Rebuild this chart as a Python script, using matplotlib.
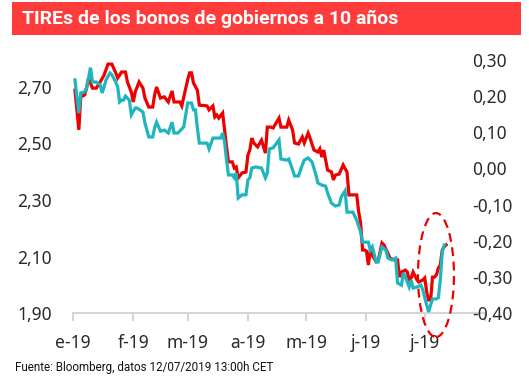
import numpy as np
import matplotlib
matplotlib.use("Agg")
import matplotlib.pyplot as plt
from matplotlib.patches import Ellipse, Rectangle

# ---- data (days counted from 2019-01-01) ----
red_days = [1, 3, 4, 6, 7, 8, 10, 12, 14, 16, 18, 20, 22, 23, 25, 27, 28, 30, 31, 32,
            34, 36, 37, 39, 41, 42, 43, 45, 47, 49, 51, 52, 55, 56, 57, 59, 60, 61, 62, 64,
            65, 69, 70, 72, 73, 74, 75, 77, 78, 79, 80, 82, 83, 84, 85, 87, 89, 90, 91, 92,
            93, 95, 97, 99, 100, 102, 103, 106, 107, 110, 111, 113, 114, 116, 118, 119, 121, 122, 124, 126,
            127, 128, 129, 131, 133, 134, 135, 137, 139, 141, 142, 146, 147, 148, 149, 150, 151, 152, 153, 154,
            156, 157, 159, 160, 162, 163, 165, 167, 168, 169, 171, 172, 173, 174, 175, 177, 178, 180, 181, 182,
            183, 184, 185, 186, 187, 188, 189, 190, 191, 192]
red_vals = [2.689, 2.548, 2.665, 2.672, 2.696, 2.732, 2.696, 2.696, 2.718, 2.742, 2.781, 2.781, 2.750, 2.732, 2.753, 2.753, 2.718, 2.682, 2.647, 2.682,
            2.718, 2.696, 2.661, 2.629, 2.629, 2.672, 2.700, 2.661, 2.665, 2.647, 2.686, 2.647, 2.647, 2.633, 2.665, 2.725, 2.750, 2.750, 2.714, 2.689,
            2.636, 2.633, 2.619, 2.633, 2.594, 2.601, 2.590, 2.608, 2.548, 2.488, 2.435, 2.435, 2.413, 2.417, 2.378, 2.396, 2.399, 2.459, 2.477, 2.519,
            2.502, 2.488, 2.512, 2.466, 2.558, 2.558, 2.555, 2.590, 2.558, 2.558, 2.583, 2.548, 2.502, 2.498, 2.523, 2.502, 2.537, 2.519, 2.477, 2.470,
            2.481, 2.452, 2.477, 2.406, 2.399, 2.371, 2.388, 2.392, 2.424, 2.399, 2.318, 2.318, 2.258, 2.219, 2.123, 2.123, 2.119, 2.070, 2.123, 2.105,
            2.081, 2.084, 2.148, 2.141, 2.112, 2.095, 2.088, 2.088, 2.027, 2.045, 2.052, 2.045, 2.017, 2.024, 2.045, 2.017, 2.010, 2.017, 2.024, 1.974,
            1.946, 1.946, 2.027, 2.027, 2.035, 2.059, 2.070, 2.123, 2.134, 2.141]

teal_days = [1, 3, 4, 6, 7, 9, 10, 12, 14, 15, 16, 17, 19, 20, 22, 23, 24, 25, 26, 27,
             29, 30, 32, 33, 36, 37, 39, 41, 42, 43, 45, 47, 49, 51, 52, 54, 57, 59, 61, 62,
             63, 64, 65, 69, 70, 72, 76, 77, 78, 79, 80, 82, 83, 84, 85, 87, 89, 90, 91, 92,
             94, 97, 99, 100, 101, 103, 106, 107, 110, 111, 113, 114, 116, 118, 119, 121, 123, 125, 126, 128,
             130, 131, 133, 135, 137, 138, 140, 141, 144, 146, 148, 149, 152, 153, 154, 156, 157, 159, 161, 162,
             164, 166, 167, 169, 170, 171, 172, 173, 174, 175, 177, 179, 180, 181, 183, 184, 185, 187, 188, 189,
             190, 191]
teal_vals = [0.245, 0.153, 0.209, 0.212, 0.223, 0.279, 0.239, 0.239, 0.231, 0.209, 0.225, 0.245, 0.264, 0.259, 0.239, 0.225, 0.184, 0.189, 0.189, 0.200,
             0.189, 0.148, 0.167, 0.167, 0.156, 0.126, 0.087, 0.087, 0.112, 0.128, 0.103, 0.106, 0.098, 0.128, 0.098, 0.098, 0.115, 0.181, 0.181, 0.162,
             0.162, 0.112, 0.070, 0.070, 0.054, 0.084, 0.084, 0.098, 0.073, 0.023, -0.018, -0.018, -0.026, -0.013, -0.082, -0.073, -0.073, -0.032, -0.026, 0.001,
             0.004, 0.001, -0.026, -0.013, 0.054, 0.057, 0.079, 0.026, 0.023, 0.026, -0.004, -0.021, -0.021, 0.010, 0.023, 0.029, 0.018, -0.018, -0.040, -0.046,
             -0.049, -0.068, -0.096, -0.104, -0.101, -0.079, -0.062, -0.121, -0.121, -0.143, -0.176, -0.204, -0.204, -0.226, -0.217, -0.259, -0.259, -0.217, -0.226, -0.248,
             -0.253, -0.248, -0.317, -0.323, -0.289, -0.300, -0.314, -0.328, -0.309, -0.331, -0.328, -0.323, -0.336, -0.358, -0.397, -0.378, -0.361, -0.361, -0.358, -0.309,
             -0.231, -0.212]

month_starts = ["2019-01-01", "2019-02-01", "2019-03-01", "2019-04-01",
                "2019-05-01", "2019-06-01", "2019-07-01", "2019-08-01"]
month_labels = ["e-19", "f-19", "m-19", "a-19", "m-19", "j-19", "j-19", ""]
left_ticks = [1.90, 2.10, 2.30, 2.50, 2.70]
right_ticks = [-0.40, -0.30, -0.20, -0.10, 0.00, 0.10, 0.20, 0.30]

title = "TIREs de los bonos de gobiernos a 10 años"
source = "Fuente: Bloomberg, datos 12/07/2019 13:00h CET"

RED = "#EC0000"
TEAL = "#1EB5BE"
BANNER = "#FF3C3C"
TXT = "#2A2A2A"
GRID = "#D5D5D5"

plt.rcParams["font.family"] = ["Noto Sans", "DejaVu Sans"]

base = np.datetime64("2019-01-01")
red_x = base + np.array(red_days).astype("timedelta64[D]")
teal_x = base + np.array(teal_days).astype("timedelta64[D]")
mx = np.array(month_starts, dtype="datetime64[D]")

fig = plt.figure(figsize=(5.29, 3.84), dpi=100)
ax = fig.add_axes([73 / 529, 1 - 313 / 384, (485 - 73) / 529, (313 - 60) / 384])
ax2 = ax.twinx()

ax.plot(red_x, red_vals, color=RED, lw=2.3, solid_joinstyle="miter")
ax2.plot(teal_x, teal_vals, color=TEAL, lw=2.3, solid_joinstyle="miter")

ax.set_xlim(mx[0], mx[-1])
ax.set_ylim(1.90, 1.90 + 253 / 282.5)
ax2.set_ylim(-0.40, 0.30)

ax.set_xticks(mx)
ax.set_xticklabels(month_labels)
ax.set_yticks(left_ticks)
ax.set_yticklabels([f"{v:.2f}".replace(".", ",") for v in left_ticks])
ax2.set_yticks(right_ticks)
ax2.set_yticklabels([f"{v:.2f}".replace(".", ",") for v in right_ticks])

for a in (ax, ax2):
    for s in ("top", "left", "right", "bottom"):
        a.spines[s].set_visible(False)
ax.spines["bottom"].set_visible(True)
ax.spines["bottom"].set_color(GRID)
ax.spines["bottom"].set_linewidth(1.5)

ax.tick_params(axis="x", direction="out", length=6, width=1.5, color=GRID,
               labelsize=12.5, labelcolor=TXT, pad=9)
ax.tick_params(axis="y", length=0, labelsize=12.5, labelcolor=TXT, pad=15)
ax2.tick_params(axis="y", length=0, labelsize=12.5, labelcolor=TXT, pad=-9.5)

# dashed highlight ellipse
ell = Ellipse((0.881, 0.150), 0.0874, 0.49, transform=ax.transAxes, fill=False,
              edgecolor=RED, lw=1.6, linestyle=(0, (4, 2.5)), clip_on=False, zorder=5)
ax2.add_patch(ell)

# title banner
fig.patches.append(Rectangle((12 / 529, 1 - 35 / 384), (521 - 12) / 529, 33 / 384,
                             transform=fig.transFigure, facecolor=BANNER,
                             edgecolor="none", zorder=0))
fig.text(22 / 529, 1 - 19 / 384, title, color="white", fontsize=14,
         fontweight="bold", family=["Roboto", "DejaVu Sans"], va="center", ha="left")
fig.text(15 / 529, 1 - 368 / 384, source, color="#111111", fontsize=8.4,
         family=["Roboto", "DejaVu Sans"], va="center", ha="left")

fig.savefig("out.png", dpi=100)
